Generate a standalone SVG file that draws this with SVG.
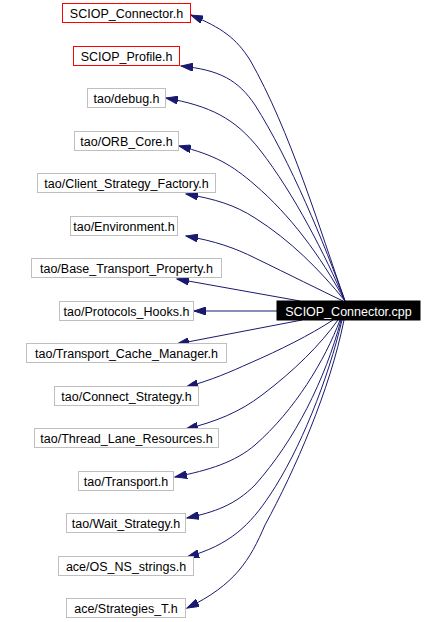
<svg xmlns="http://www.w3.org/2000/svg" width="446" height="622" viewBox="0 0 446 622">
<defs>
<style>
.n rect{fill:#ffffff;stroke:#bfbfbf;stroke-width:1}
.n.r rect{stroke:#ff0000}
.n text{font-family:"Liberation Sans",Arial,sans-serif;font-size:12.5px;text-anchor:middle;fill:#000000}
#main rect{fill:#000000;stroke:#000000}
#main text{fill:#ffffff}
.e path{fill:none;stroke:#191970;stroke-width:1;marker-end:url(#ah)}
</style>
<marker id="ah" markerUnits="userSpaceOnUse" markerWidth="13" markerHeight="8" refX="12" refY="4" orient="auto" viewBox="0 0 13 8">
<polygon points="0,0 12,4 0,8" fill="#191970" stroke="#191970" stroke-width="1"/>
</marker>
</defs>
<rect width="446" height="622" fill="#ffffff"/>
<g class="e" id="edges">
<path d="M345,301 C320,230 290,130 250,60 C236,38 222,28 191,15"/>
<path d="M345,301 C325,245 290,160 255,105 C238,80 220,70 181,66"/>
<path d="M345,301 C325,255 295,195 260,150 C235,118 210,106 166,98"/>
<path d="M345,301 C320,255 290,215 255,185 C232,165 215,155 179,146"/>
<path d="M345,301 C320,270 290,240 255,218 C235,205 215,199 186,194"/>
<path d="M343,301 C320,290 290,275 255,258 C235,248 215,241 186,236"/>
<path d="M300,301 L177,279"/>
<path d="M277,311 L194,311"/>
<path d="M302,320 L177,344"/>
<path d="M333,320 C310,335 280,350 250,363 C230,372 212,380 186,387"/>
<path d="M338,320 C320,345 295,370 262,395 C240,412 215,422 186,429"/>
<path d="M340,320 C325,360 295,410 255,445 C235,462 210,470 175,477"/>
<path d="M341,320 C325,380 295,440 255,485 C235,505 215,512 187,518"/>
<path d="M342,320 C328,380 300,450 270,495 C250,525 230,545 187,557"/>
<path d="M344,320 C330,390 295,470 265,525 C250,560 235,585 187,608"/>
</g>
<g class="n" id="main"><rect x="277" y="301" width="143" height="19"/><text x="348.5" y="315.5">SCIOP_Connector.cpp</text></g>
<g class="n r" id="n1"><rect x="62.5" y="3.5" width="128" height="19"/><text x="126.5" y="18">SCIOP_Connector.h</text></g>
<g class="n r" id="n2"><rect x="73.5" y="46.5" width="106" height="19"/><text x="126.5" y="61">SCIOP_Profile.h</text></g>
<g class="n" id="n3"><rect x="87.5" y="88.5" width="78" height="19"/><text x="126.5" y="103">tao/debug.h</text></g>
<g class="n" id="n4"><rect x="74.5" y="131.5" width="104" height="19"/><text x="126.5" y="146">tao/ORB_Core.h</text></g>
<g class="n" id="n5"><rect x="37.5" y="173.5" width="178" height="19"/><text x="126.5" y="188">tao/Client_Strategy_Factory.h</text></g>
<g class="n" id="n6"><rect x="70.5" y="216.5" width="107" height="19"/><text x="124" y="231">tao/Environment.h</text></g>
<g class="n" id="n7"><rect x="31.5" y="258.5" width="190" height="19"/><text x="126.5" y="273">tao/Base_Transport_Property.h</text></g>
<g class="n" id="n8"><rect x="59.5" y="301.5" width="134" height="19"/><text x="126.5" y="316">tao/Protocols_Hooks.h</text></g>
<g class="n" id="n9"><rect x="26.5" y="343.5" width="200" height="19"/><text x="126.5" y="358">tao/Transport_Cache_Manager.h</text></g>
<g class="n" id="n10"><rect x="54.5" y="386.5" width="144" height="19"/><text x="126.5" y="401">tao/Connect_Strategy.h</text></g>
<g class="n" id="n11"><rect x="34.5" y="428.5" width="184" height="19"/><text x="126.5" y="443">tao/Thread_Lane_Resources.h</text></g>
<g class="n" id="n12"><rect x="78.5" y="471.5" width="95" height="19"/><text x="126" y="486">tao/Transport.h</text></g>
<g class="n" id="n13"><rect x="66.5" y="513.5" width="119" height="19"/><text x="126" y="528">tao/Wait_Strategy.h</text></g>
<g class="n" id="n14"><rect x="58.5" y="556.5" width="135" height="19"/><text x="126" y="571">ace/OS_NS_strings.h</text></g>
<g class="n" id="n15"><rect x="66.5" y="598.5" width="119" height="19"/><text x="126" y="613">ace/Strategies_T.h</text></g>
</svg>
